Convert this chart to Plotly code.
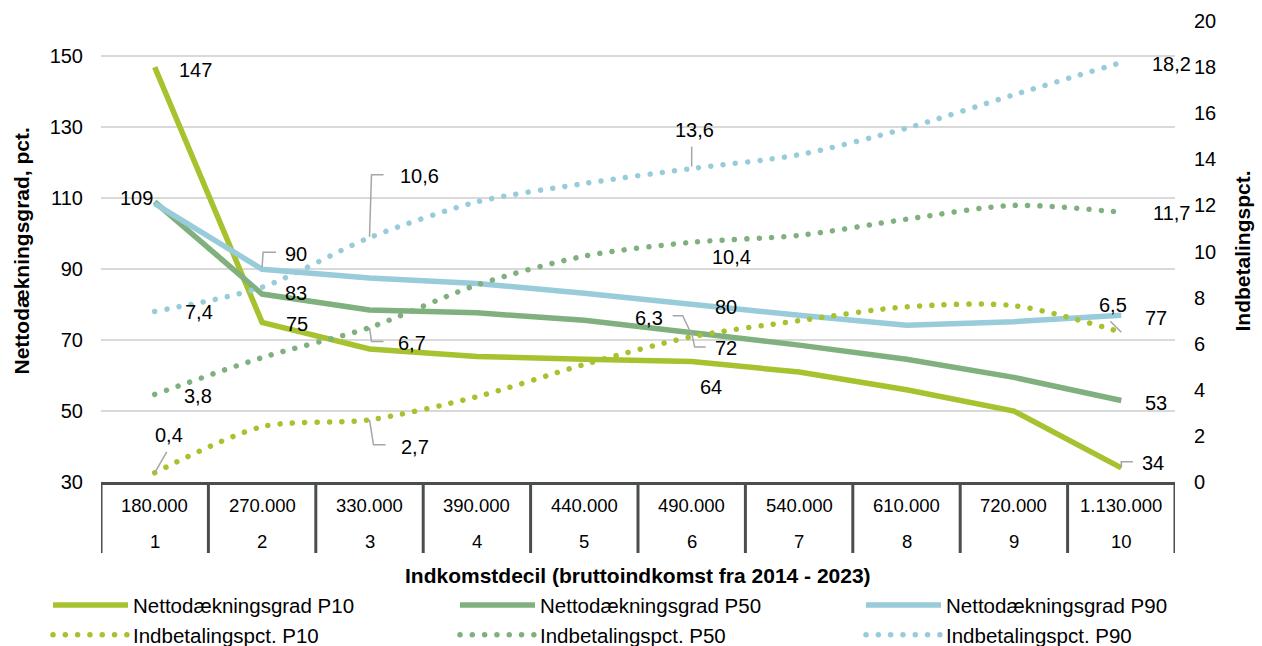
import plotly.graph_objects as go

# Income deciles and the gross income that marks each decile
deciles = ["1", "2", "3", "4", "5", "6", "7", "8", "9", "10"]
incomes = ["180.000", "270.000", "330.000", "390.000", "440.000",
           "490.000", "540.000", "610.000", "720.000", "1.130.000"]

# Nettodækningsgrad (pct.) by decile, left axis
netto_p10 = [147, 75, 67.5, 65.4, 64.6, 64, 61, 56, 50, 34]
netto_p50 = [109, 83, 78.5, 77.7, 75.6, 72, 68.6, 64.6, 59.5, 53]
netto_p90 = [108.5, 90, 87.5, 86, 83.2, 80, 77, 74.2, 75.2, 77]

# Indbetalingspct. by decile, right axis
indb_p10 = [0.4, 2.4, 2.7, 3.7, 5.1, 6.3, 7.0, 7.6, 7.65, 6.5]
indb_p50 = [3.8, 5.4, 6.7, 8.55, 9.8, 10.4, 10.7, 11.4, 12.0, 11.7]
indb_p90 = [7.4, 8.45, 10.6, 12.15, 12.95, 13.6, 14.2, 15.35, 16.8, 18.2]

LIME = "#A6C22E"
GREEN = "#7FB07E"
BLUE = "#98CCDA"
DARK = "#4B4F4B"
GRID = "#D9D9D9"
LEADER = "#A6A6A6"
FONT = "Liberation Sans, Arial, sans-serif"
DOT_DASH = "5px,7.3px"

xi = list(range(len(deciles)))

fig = go.Figure()

# Each percentile gets its own legend column (solid + dotted)
solid = [("Nettodækningsgrad P10", netto_p10, LIME, "legend"),
         ("Nettodækningsgrad P50", netto_p50, GREEN, "legend2"),
         ("Nettodækningsgrad P90", netto_p90, BLUE, "legend3")]
dotted = [("Indbetalingspct. P10", indb_p10, LIME, "legend"),
          ("Indbetalingspct. P50", indb_p50, GREEN, "legend2"),
          ("Indbetalingspct. P90", indb_p90, BLUE, "legend3")]

for name, vals, col, lg in solid:
    fig.add_trace(go.Scatter(x=xi, y=vals, name=name, mode="lines",
                             line=dict(color=col, width=5.5), yaxis="y",
                             legend=lg, hoverinfo="skip"))
for name, vals, col, lg in dotted:
    fig.add_trace(go.Scatter(x=xi, y=vals, name=name, mode="lines",
                             line=dict(color=col, width=5.5, dash=DOT_DASH,
                                       shape="spline", smoothing=0.8),
                             yaxis="y2", legend=lg, hoverinfo="skip"))


def fmt_netto(v):
    return f"{v:.0f}"


def fmt_indb(v):
    return f"{v:.1f}".replace(".", ",")


# Data labels: (series, decile index, axis, dx, dy) with pixel offsets (dy up)
labels = [
    (netto_p10, 0, "y", 40.5, -2.4), (netto_p10, 1, "y", 34.5, -1.8),
    (netto_p10, 5, "y", 19.3, -26), (netto_p10, 9, "y", 31.3, 4.5),
    (netto_p50, 0, "y", -18.5, 4), (netto_p50, 1, "y", 34, 0.6),
    (netto_p50, 5, "y", 34.5, -15), (netto_p50, 9, "y", 34.5, -2.3),
    (netto_p90, 1, "y", 34, 15), (netto_p90, 5, "y", 34.7, -2.8),
    (netto_p90, 9, "y", 34.3, -3.1),
    (indb_p10, 0, "y2", 14.5, 37.8), (indb_p10, 2, "y2", 45, -26.9),
    (indb_p10, 5, "y2", -43, 18.8), (indb_p10, 9, "y2", -8.7, 27.2),
    (indb_p50, 0, "y2", 43, -1.6), (indb_p50, 2, "y2", 42, -15.4),
    (indb_p50, 5, "y2", 39.7, -14.4), (indb_p50, 9, "y2", 50, -0.4),
    (indb_p90, 0, "y2", 44, -0.9), (indb_p90, 2, "y2", 50, 61.7),
    (indb_p90, 5, "y2", 3, 38.5), (indb_p90, 9, "y2", 50, -1.8),
]

annotations = []
for vals, i, ax, dx, dy in labels:
    txt = fmt_netto(vals[i]) if ax == "y" else fmt_indb(vals[i])
    annotations.append(dict(x=i, y=vals[i], xref="x", yref=ax, text=txt,
                            showarrow=False, xshift=dx, yshift=dy,
                            xanchor="center", yanchor="middle",
                            font=dict(size=20, color="#000000", family=FONT)))

# Two-row category table under the x axis
for i in xi:
    annotations.append(dict(x=i, y=0, xref="x", yref="paper", text=incomes[i],
                            showarrow=False, yshift=-23.5, yanchor="middle",
                            font=dict(size=18.5, color="#000000", family=FONT)))
    annotations.append(dict(x=i, y=0, xref="x", yref="paper", text=deciles[i],
                            showarrow=False, yshift=-59.5, yanchor="middle",
                            font=dict(size=18.5, color="#000000", family=FONT)))

# Axis titles
annotations.append(dict(x=0.5, y=0, xref="paper", yref="paper",
                        text="<b>Indkomstdecil (bruttoindkomst fra 2014 - 2023)</b>",
                        showarrow=False, yshift=-93, yanchor="middle",
                        font=dict(size=21, color="#000000", family=FONT)))
annotations.append(dict(x=0, y=0.5, xref="paper", yref="paper",
                        text="<b>Nettodækningsgrad, pct.</b>", textangle=-90,
                        showarrow=False, xshift=-80, xanchor="center",
                        yanchor="middle",
                        font=dict(size=21, color="#000000", family=FONT)))
annotations.append(dict(x=1, y=0.5, xref="paper", yref="paper",
                        text="<b>Indbetalingspct.</b>", textangle=-90,
                        showarrow=False, xshift=67, xanchor="center",
                        yanchor="middle",
                        font=dict(size=21, color="#000000", family=FONT)))

shapes = []
# Vertical dividers between the decile cells
for b in range(len(deciles) + 1):
    shapes.append(dict(type="line", xref="x", yref="paper", x0=b - 0.5, x1=b - 0.5,
                       ysizemode="pixel", yanchor=0, y0=0, y1=-71,
                       line=dict(color=DARK, width=3)))

# Leader lines from label to data point: (series, index, axis, pixel path)
leaders = [
    (netto_p90, 1, "y", "M0,2 L1,17 L14,17"),
    (indb_p10, 0, "y2", "M0,0 L12,21"),
    (indb_p90, 2, "y2", "M0,1 L2,63 L14,63"),
    (indb_p50, 2, "y2", "M0,0 L2,-14 L14,-14"),
    (indb_p10, 2, "y2", "M0,0 L4,-25 L16,-25"),
    (indb_p90, 5, "y2", "M0,2 L0,22"),
    (indb_p10, 5, "y2", "M-19,21 L-9,21 L0,2"),
    (netto_p50, 5, "y", "M0,0 L3,-14 L14,-14"),
    (indb_p10, 9, "y2", "M0,0 L-11,11"),
    (netto_p10, 9, "y", "M0,0 L0,6 L11.6,6"),
]
for vals, i, ax, path in leaders:
    shapes.append(dict(type="path", xref="x", yref=ax, xsizemode="pixel",
                       ysizemode="pixel", xanchor=i, yanchor=vals[i], path=path,
                       line=dict(color=LEADER, width=1.5), layer="above"))

legend_style = dict(orientation="v", xref="container", yref="container",
                    y=0.094, xanchor="left", yanchor="top", itemwidth=75,
                    tracegroupgap=0, font=dict(size=20.5, family=FONT),
                    bgcolor="rgba(0,0,0,0)")

fig.update_layout(
    width=1262, height=646,
    margin=dict(l=101, r=87, t=21, b=164, autoexpand=False),
    paper_bgcolor="white", plot_bgcolor="white",
    font=dict(family=FONT, size=20, color="#000000"),
    showlegend=True,
    legend=dict(legend_style, x=48 / 1262),
    legend2=dict(legend_style, x=455 / 1262),
    legend3=dict(legend_style, x=861 / 1262),
    xaxis=dict(range=[-0.5, 9.5], showgrid=False, zeroline=False,
               showline=True, linecolor=DARK, linewidth=3,
               showticklabels=False, ticks="", fixedrange=True),
    yaxis=dict(range=[30, 160], tickvals=[30, 50, 70, 90, 110, 130, 150],
               showgrid=True, gridcolor=GRID, gridwidth=2, zeroline=False,
               showline=False, ticks="", ticklabelstandoff=17,
               tickfont=dict(size=20)),
    yaxis2=dict(range=[0, 20], dtick=2, overlaying="y", side="right",
                showgrid=False, zeroline=False, showline=False, ticks="",
                ticklabelstandoff=18, tickfont=dict(size=20)),
    annotations=annotations,
    shapes=shapes,
)

# Round caps on the dotted series so the dots render as circles
post = """
var gd = document.getElementById('{plot_id}');
function roundDots() {
  gd.querySelectorAll('path').forEach(function (p) {
    var d = (p.style.strokeDasharray || '').replace(/\\s/g, '');
    if (d === '5px,7.3px') {
      p.style.strokeDasharray = '0.01px,12.3px';
      p.style.strokeLinecap = 'round';
    }
  });
}
roundDots();
gd.on('plotly_afterplot', roundDots);
"""

fig.write_html("out.html", post_script=post)
